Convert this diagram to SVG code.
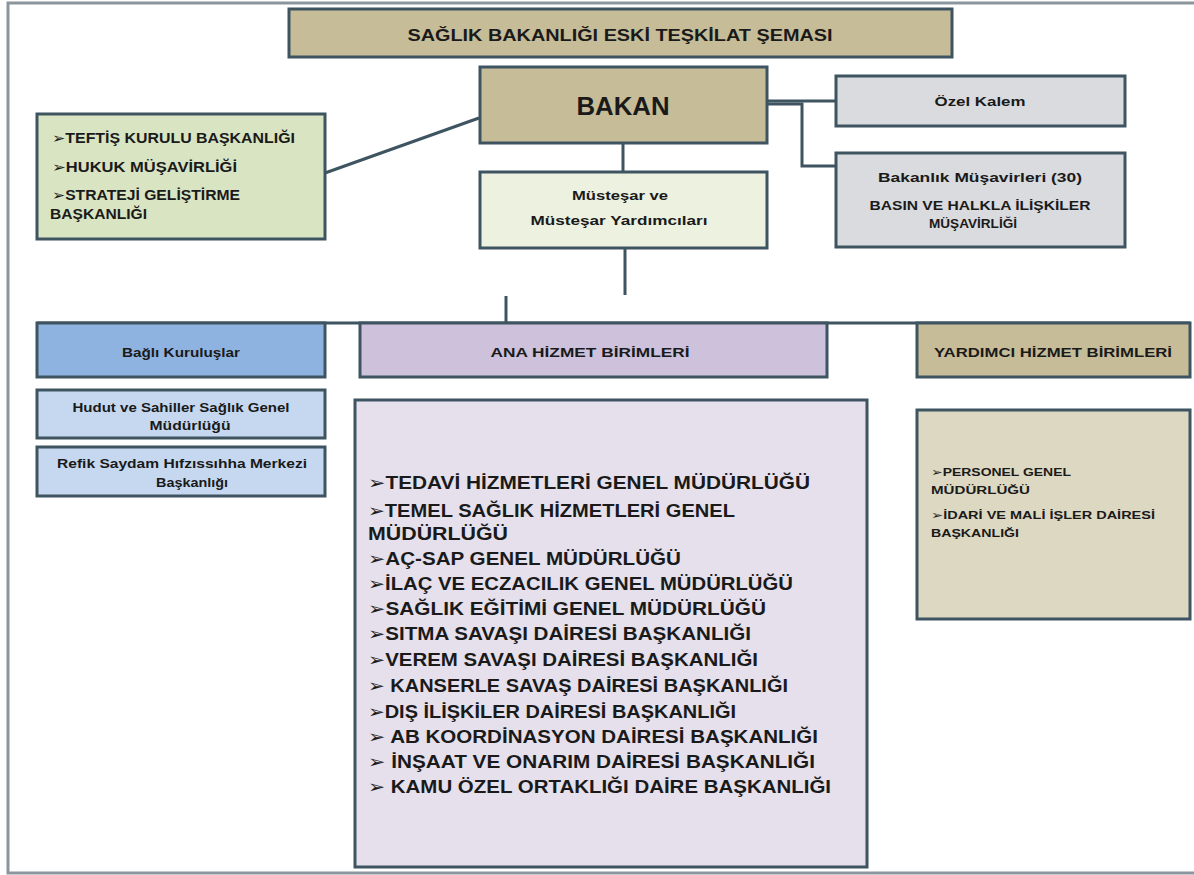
<svg xmlns="http://www.w3.org/2000/svg" width="1194" height="875" viewBox="0 0 1194 875">
<style>
.box{stroke:#3e5561;stroke-width:3}
.tan{fill:#c6bc98}
.green{fill:#d9e4c3}
.cream{fill:#ecf1e0}
.grey{fill:#d9dbde}
.blue{fill:#8fb3e0}
.lblue{fill:#c5d8ef}
.lav{fill:#cdc1db}
.llav{fill:#e5e0ec}
.beige{fill:#ddd8c1}
text{font-family:"Liberation Sans",Arial,"DejaVu Sans",sans-serif;font-weight:bold;fill:#1a1a1a}
.c{text-anchor:middle}
.conn{stroke:#3e5561;stroke-width:3;fill:none}
.frame{stroke:#8a959c;stroke-width:3;fill:none}
</style>
<rect x="0" y="0" width="1194" height="875" fill="#ffffff"/>
<path class="frame" d="M1194 3 H8 V873 H1194"/>
<g id="connectors">
<path class="conn" d="M325 173 L479 118"/>
<path class="conn" d="M767 101 H836"/>
<path class="conn" d="M767 104 H802 V166 H836"/>
<path class="conn" d="M623 143 V172"/>
<path class="conn" d="M625 248 V295"/>
<path class="conn" d="M506 296 V323"/>
<path class="conn" d="M37 323 H1190"/>
</g>
<g id="title">
<rect class="box tan" x="289" y="9" width="663" height="48"/>
<text class="c" x="620" y="41" font-size="16" textLength="425" lengthAdjust="spacingAndGlyphs">SAĞLIK BAKANLIĞI ESKİ TEŞKİLAT ŞEMASI</text>
</g>
<g id="bakan">
<rect class="box tan" x="480" y="67" width="287" height="76"/>
<text class="c" x="623" y="115" font-size="25" textLength="93" lengthAdjust="spacingAndGlyphs">BAKAN</text>
</g>
<g id="teftis">
<rect class="box green" x="37" y="114" width="288" height="125"/>
<text x="52" y="143" font-size="14" textLength="243" lengthAdjust="spacingAndGlyphs">➢TEFTİŞ KURULU BAŞKANLIĞI</text>
<text x="52" y="172" font-size="14" textLength="185" lengthAdjust="spacingAndGlyphs">➢HUKUK MÜŞAVİRLİĞİ</text>
<text x="52" y="200" font-size="14" textLength="188" lengthAdjust="spacingAndGlyphs">➢STRATEJİ GELİŞTİRME</text>
<text x="50" y="219" font-size="14" textLength="97" lengthAdjust="spacingAndGlyphs">BAŞKANLIĞI</text>
</g>
<g id="mustesar">
<rect class="box cream" x="480" y="172" width="287" height="76"/>
<text class="c" x="620" y="200" font-size="13" textLength="96" lengthAdjust="spacingAndGlyphs">Müsteşar ve</text>
<text class="c" x="619" y="225" font-size="13" textLength="177" lengthAdjust="spacingAndGlyphs">Müsteşar Yardımcıları</text>
</g>
<g id="ozel-kalem">
<rect class="box grey" x="836" y="76" width="289" height="50"/>
<text class="c" x="980" y="106" font-size="13" textLength="91" lengthAdjust="spacingAndGlyphs">Özel Kalem</text>
</g>
<g id="musavirler">
<rect class="box grey" x="836" y="153" width="289" height="94"/>
<text class="c" x="980" y="182" font-size="13" textLength="204" lengthAdjust="spacingAndGlyphs">Bakanlık Müşavirleri (30)</text>
<text class="c" x="980" y="210" font-size="13" textLength="221" lengthAdjust="spacingAndGlyphs">BASIN VE HALKLA İLİŞKİLER</text>
<text class="c" x="973" y="228" font-size="13" textLength="88" lengthAdjust="spacingAndGlyphs">MÜŞAVİRLİĞİ</text>
</g>
<g id="bagli">
<rect class="box blue" x="37" y="323" width="288" height="54"/>
<text class="c" x="181" y="357" font-size="12" textLength="118" lengthAdjust="spacingAndGlyphs">Bağlı Kuruluşlar</text>
</g>
<g id="ana">
<rect class="box lav" x="360" y="323" width="467" height="54"/>
<text class="c" x="590" y="357" font-size="12" textLength="199" lengthAdjust="spacingAndGlyphs">ANA HİZMET BİRİMLERİ</text>
</g>
<g id="yardimci">
<rect class="box tan" x="917" y="323" width="273" height="54"/>
<text class="c" x="1053" y="357" font-size="13" textLength="238" lengthAdjust="spacingAndGlyphs">YARDIMCI HİZMET BİRİMLERİ</text>
</g>
<g id="hudut">
<rect class="box lblue" x="37" y="390" width="288" height="48"/>
<text class="c" x="181" y="412" font-size="12" textLength="217" lengthAdjust="spacingAndGlyphs">Hudut ve Sahiller Sağlık Genel</text>
<text class="c" x="190" y="430" font-size="12" textLength="81" lengthAdjust="spacingAndGlyphs">Müdürlüğü</text>
</g>
<g id="refik">
<rect class="box lblue" x="37" y="447" width="288" height="49"/>
<text class="c" x="182" y="468" font-size="12" textLength="250" lengthAdjust="spacingAndGlyphs">Refik Saydam Hıfzıssıhha Merkezi</text>
<text class="c" x="192" y="487" font-size="12" textLength="72" lengthAdjust="spacingAndGlyphs">Başkanlığı</text>
</g>
<g id="ana-list">
<rect class="box llav" x="355" y="400" width="512" height="467"/>
<text x="368" y="489" font-size="18" textLength="442" lengthAdjust="spacingAndGlyphs">➢TEDAVİ HİZMETLERİ GENEL MÜDÜRLÜĞÜ</text>
<text x="368" y="517" font-size="18" textLength="367" lengthAdjust="spacingAndGlyphs">➢TEMEL SAĞLIK HİZMETLERİ GENEL</text>
<text x="368" y="540" font-size="18" textLength="140" lengthAdjust="spacingAndGlyphs">MÜDÜRLÜĞÜ</text>
<text x="368" y="565" font-size="18" textLength="313" lengthAdjust="spacingAndGlyphs">➢AÇ-SAP GENEL MÜDÜRLÜĞÜ</text>
<text x="368" y="590" font-size="18" textLength="425" lengthAdjust="spacingAndGlyphs">➢İLAÇ VE ECZACILIK GENEL MÜDÜRLÜĞÜ</text>
<text x="368" y="615" font-size="18" textLength="398" lengthAdjust="spacingAndGlyphs">➢SAĞLIK EĞİTİMİ GENEL MÜDÜRLÜĞÜ</text>
<text x="368" y="640" font-size="18" textLength="383" lengthAdjust="spacingAndGlyphs">➢SITMA SAVAŞI DAİRESİ BAŞKANLIĞI</text>
<text x="368" y="666" font-size="18" textLength="390" lengthAdjust="spacingAndGlyphs">➢VEREM SAVAŞI DAİRESİ BAŞKANLIĞI</text>
<text x="368" y="692" font-size="18" textLength="420" lengthAdjust="spacingAndGlyphs">➢ KANSERLE SAVAŞ DAİRESİ BAŞKANLIĞI</text>
<text x="368" y="718" font-size="18" textLength="368" lengthAdjust="spacingAndGlyphs">➢DIŞ İLİŞKİLER DAİRESİ BAŞKANLIĞI</text>
<text x="368" y="743" font-size="18" textLength="450" lengthAdjust="spacingAndGlyphs">➢ AB KOORDİNASYON DAİRESİ BAŞKANLIĞI</text>
<text x="368" y="768" font-size="18" textLength="447" lengthAdjust="spacingAndGlyphs">➢ İNŞAAT VE ONARIM DAİRESİ BAŞKANLIĞI</text>
<text x="368" y="793" font-size="18" textLength="463" lengthAdjust="spacingAndGlyphs">➢ KAMU ÖZEL ORTAKLIĞI DAİRE BAŞKANLIĞI</text>
</g>
<g id="yardimci-list">
<rect class="box beige" x="917" y="410" width="273" height="209"/>
<text x="931" y="476" font-size="11.5" textLength="140" lengthAdjust="spacingAndGlyphs">➢PERSONEL GENEL</text>
<text x="931" y="494" font-size="11.5" textLength="99" lengthAdjust="spacingAndGlyphs">MÜDÜRLÜĞÜ</text>
<text x="931" y="519" font-size="11.5" textLength="224" lengthAdjust="spacingAndGlyphs">➢İDARİ VE MALİ İŞLER DAİRESİ</text>
<text x="931" y="537" font-size="11.5" textLength="88" lengthAdjust="spacingAndGlyphs">BAŞKANLIĞI</text>
</g>
</svg>
